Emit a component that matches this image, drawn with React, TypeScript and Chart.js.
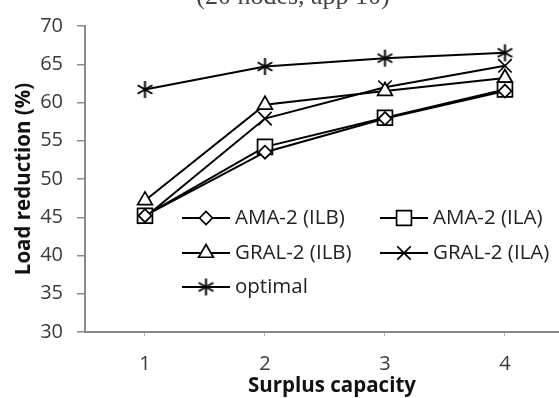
import { useEffect, useRef } from "react";
import { Chart, registerables } from "chart.js";
import { drawPoint } from "chart.js/helpers";

Chart.register(...registerables);

const chartTitle = "(20 nodes, app 10)";
const xTitle = "Surplus capacity";
const yTitle = "Load reduction (%)";
const xValues = [1, 2, 3, 4];
const yTickValues = [30, 35, 40, 45, 50, 55, 60, 65, 70];
const seriesNames = ["AMA-2 (ILB)", "AMA-2 (ILA)", "GRAL-2 (ILB)", "GRAL-2 (ILA)", "optimal"];
const amaILB = [45.2, 53.5, 57.9, 61.5];
const amaILA = [45.2, 54.2, 58.0, 61.7];
const gralILB = [47.2, 59.7, 61.5, 63.2];
const gralILA = [45.0, 57.9, 62.0, 64.8];
const optimal = [61.7, 64.7, 65.8, 66.5];

const TEXT = "#3a3a3a";
const AXIS = "#8a8a8a";
const TICK_FONT = { family: "'Open Sans', sans-serif", size: 20 };
const TITLE_FONT = { family: "'Open Sans', sans-serif", size: 20.5, weight: "bold" as const, lineHeight: 1.2 };

function makeAsterisk(r: number, lw: number): HTMLCanvasElement {
  const s = Math.ceil(2 * r + 2 * lw);
  const c = document.createElement("canvas");
  c.width = s;
  c.height = s;
  const g = c.getContext("2d")!;
  g.strokeStyle = "#000";
  g.lineWidth = lw;
  const m = s / 2;
  g.beginPath();
  for (const a of [90, 30, -30]) {
    const rad = (a * Math.PI) / 180;
    const dx = Math.cos(rad) * r;
    const dy = Math.sin(rad) * r;
    g.moveTo(m - dx, m - dy);
    g.lineTo(m + dx, m + dy);
  }
  g.stroke();
  return c;
}

export default function App() {
  const ref = useRef<HTMLCanvasElement | null>(null);

  useEffect(() => {
    const canvas = ref.current!;
    const star = makeAsterisk(8.5, 2);
    const styles = [
      { pointStyle: "rectRot", radius: 6.5 },
      { pointStyle: "rect", radius: 10.5 },
      { pointStyle: "triangle", radius: 8.5 },
      { pointStyle: "crossRot", radius: 9.5 },
      { pointStyle: star as any, radius: 8.5 },
    ];
    const series = [amaILB, amaILA, gralILB, gralILA, optimal];

    const datasets = series.map((vals, i) => ({
      label: seriesNames[i],
      data: xValues.map((x, j) => ({ x, y: vals[j] })),
      borderColor: "#000",
      borderWidth: 2,
      backgroundColor: "#fff",
      pointStyle: styles[i].pointStyle,
      pointRadius: styles[i].radius,
      pointBackgroundColor: "#fff",
      pointBorderColor: "#000",
      pointBorderWidth: 1.7,
      tension: 0,
      fill: false,
    }));

    const overlay = {
      id: "overlay",
      afterDraw(chart: any) {
        const ctx = chart.ctx as CanvasRenderingContext2D;
        ctx.save();
        ctx.fillStyle = "#444";
        ctx.font = "26px 'Liberation Serif', serif";
        ctx.textAlign = "center";
        ctx.textBaseline = "alphabetic";
        ctx.fillText(chartTitle, 293, 4);

        const colX = [182, 380];
        const rowY = [218, 253, 287];
        const lineLen = 48;
        ctx.font = "20.5px 'Open Sans', sans-serif";
        ctx.textAlign = "left";
        ctx.textBaseline = "middle";
        chart.data.datasets.forEach((ds: any, i: number) => {
          const x0 = colX[i % 2];
          const y = rowY[Math.floor(i / 2)];
          ctx.strokeStyle = "#000";
          ctx.lineWidth = 2;
          ctx.beginPath();
          ctx.moveTo(x0, y);
          ctx.lineTo(x0 + lineLen, y);
          ctx.stroke();
          ctx.fillStyle = "#fff";
          ctx.strokeStyle = "#000";
          ctx.lineWidth = 1.7;
          drawPoint(ctx, { pointStyle: ds.pointStyle, radius: ds.pointRadius, rotation: 0, borderWidth: 1.7 } as any, x0 + lineLen / 2, y);
          ctx.fillStyle = "#222";
          ctx.fillText(ds.label, x0 + lineLen + 5, y);
        });
        ctx.restore();
      },
    };

    const chart = new Chart(canvas, {
      type: "line",
      data: { datasets: datasets as any },
      options: {
        responsive: false,
        animation: false,
        devicePixelRatio: 1,
        layout: { padding: { left: 0, top: 21, right: 21, bottom: 0 } },
        plugins: { legend: { display: false }, tooltip: { enabled: false }, title: { display: false } },
        scales: {
          x: {
            type: "linear",
            min: 0.5,
            max: 4.617,
            afterFit: (s: any) => { s.height = 66; },
            afterBuildTicks: (s: any) => { s.ticks = xValues.map((v) => ({ value: v })); },
            ticks: { color: TEXT, font: TICK_FONT, padding: 16, callback: (v: any) => String(v) },
            grid: { drawOnChartArea: false, drawTicks: true, tickLength: 4, color: "#b0b0b0", lineWidth: 1 },
            border: { display: true, color: AXIS, width: 2 },
            title: { display: true, text: xTitle, color: "#111", font: TITLE_FONT, padding: 0 },
          },
          y: {
            type: "linear",
            min: 30,
            max: 70,
            afterFit: (s: any) => { s.width = 85; },
            afterBuildTicks: (s: any) => { s.ticks = yTickValues.map((v) => ({ value: v })); },
            ticks: { color: TEXT, font: TICK_FONT, padding: 14 },
            grid: { drawOnChartArea: false, drawTicks: true, tickLength: 8, color: AXIS, lineWidth: 1.5 },
            border: { display: true, color: AXIS, width: 2 },
            title: { display: true, text: yTitle, color: "#111", font: TITLE_FONT, padding: { top: 12, bottom: 0 } },
          },
        },
      },
      plugins: [overlay],
    });
    return () => chart.destroy();
  }, []);

  return (
    <div style={{ position: "fixed", left: 0, top: 0, width: 559, height: 398, overflow: "hidden", background: "#fff" }}>
      <canvas ref={ref} width={600} height={398} style={{ display: "block", width: 600, height: 398 }} />
    </div>
  );
}
